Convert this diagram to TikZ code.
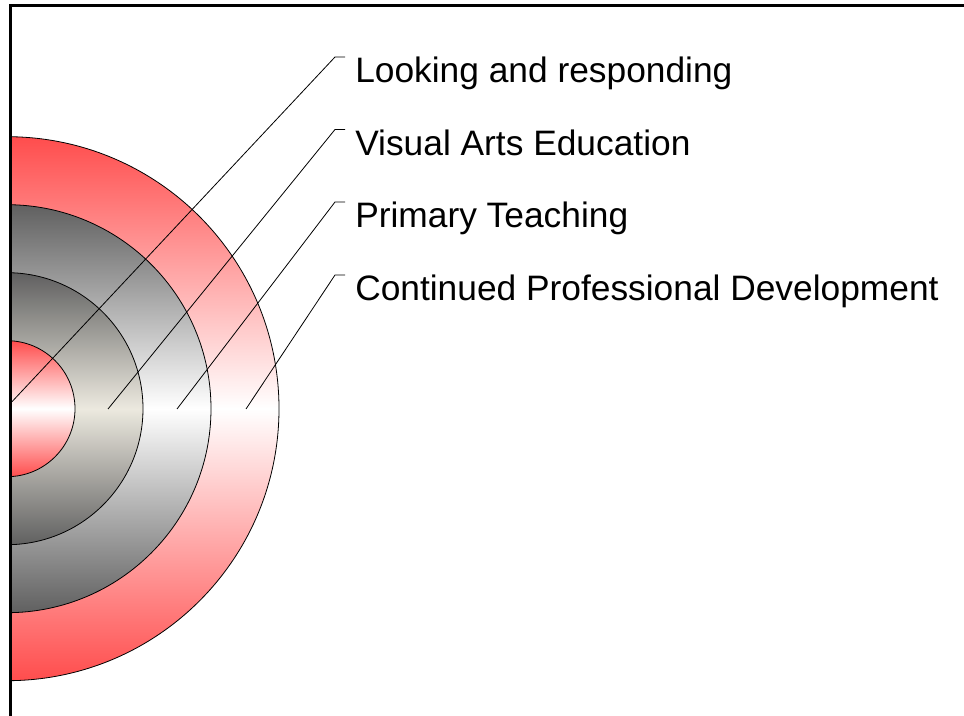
\documentclass[tikz,border=0pt]{standalone}
\usepackage{fontspec}
\setmainfont{Liberation Sans}

\definecolor{ringred}{RGB}{255,77,77}
\definecolor{ringgray}{RGB}{96,96,96}
\definecolor{ringbeige}{RGB}{236,233,223}

\begin{document}
\begin{tikzpicture}[x=0.75pt,y=-0.75pt,
    ring/.style={draw=black,line width=0.6pt},
    lead/.style={draw=black,line width=0.6pt},
    lbl/.style={anchor=base west,inner xsep=7.5pt,inner ysep=0pt,font=\fontsize{26.5}{30}\selectfont}]
        \useasboundingbox (0,0) rectangle (964,716);
        \coordinate (c) at (7,408.7);

        \begin{scope}
          \clip (10.5,0) rectangle (964,716);
          \draw[ring,top color=ringred,bottom color=ringred,middle color=white] (c) circle[radius=272];
          \draw[ring,top color=ringgray,bottom color=ringgray,middle color=white] (c) circle[radius=204];
          \draw[ring,top color=ringgray,bottom color=ringgray,middle color=ringbeige] (c) circle[radius=136];
          \draw[ring,top color=ringred,bottom color=ringred,middle color=white] (c) circle[radius=68];
        \end{scope}

        \foreach \n/\sx/\sy/\by/\txt in {1/12/401.7/57/Looking and responding,
                                          2/108/409/129.5/Visual Arts Education,
                                          3/177/409/202/Primary Teaching,
                                          4/246/409/275/Continued Professional Development} {
          \coordinate (s\n) at (\sx,\sy);
          \coordinate (b\n) at (335,\by);
          \node[lbl] (l\n) at (345,\by+26) {\txt};
          \draw[lead] (s\n) -- (b\n) -- (b\n -| l\n.west);
        }

        \draw[line width=2.25pt] (964,5.5) -- (10.5,5.5) -- (10.5,716);
      \end{tikzpicture}
\end{document}
